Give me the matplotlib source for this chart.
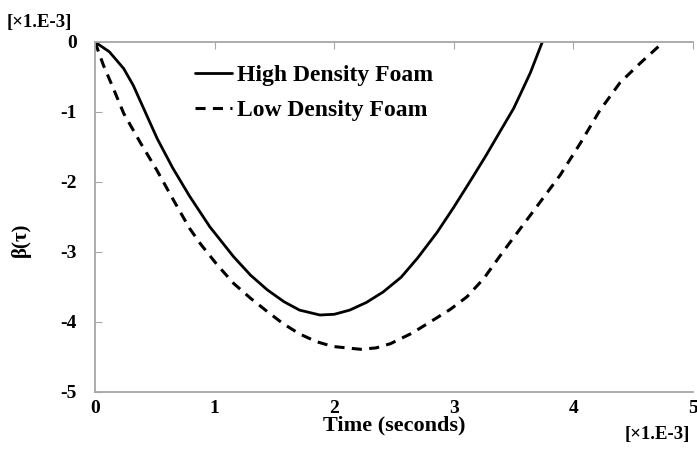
import matplotlib
matplotlib.use("Agg")
import matplotlib.pyplot as plt

# Data (time in 1e-3 s, beta in 1e-3)
t_high = [0, 0.12, 0.24, 0.32, 0.42, 0.52, 0.65, 0.79, 0.96, 1.16, 1.30, 1.44,
          1.58, 1.71, 1.88, 2.00, 2.13, 2.27, 2.41, 2.56, 2.70, 2.86, 3.00,
          3.14, 3.27, 3.40, 3.50, 3.58, 3.64, 3.74]
b_high = [0, -0.14, -0.38, -0.62, -1.00, -1.38, -1.80, -2.20, -2.64, -3.07, -3.33, -3.54,
          -3.71, -3.83, -3.90, -3.89, -3.83, -3.72, -3.57, -3.36, -3.08, -2.72, -2.36,
          -1.98, -1.62, -1.24, -0.95, -0.66, -0.44, 0.0]

t_low = [0, 0.07, 0.15, 0.24, 0.38, 0.52, 0.65, 0.79, 0.88, 1.02, 1.16, 1.30, 1.44,
         1.57, 1.71, 1.85, 1.99, 2.22, 2.35, 2.47, 2.65, 2.83, 2.97, 3.11, 3.25,
         3.41, 3.55, 3.69, 3.89, 4.06, 4.22, 4.39, 4.56, 4.74]
b_low = [0, -0.33, -0.65, -1.02, -1.44, -1.84, -2.24, -2.66, -2.88, -3.18, -3.45, -3.66, -3.85,
         -4.02, -4.17, -4.28, -4.35, -4.39, -4.37, -4.31, -4.16, -3.97, -3.82, -3.64, -3.38,
         -3.00, -2.68, -2.36, -1.90, -1.44, -0.98, -0.58, -0.30, -0.02]

x_ticks = [0, 1, 2, 3, 4, 5]
y_ticks = [0, -1, -2, -3, -4, -5]
series_names = ["High Density Foam", "Low Density Foam"]

serif = ["Liberation Serif", "DejaVu Serif"]
plt.rcParams['font.family'] = serif
plt.rcParams['font.weight'] = 'bold'

fig = plt.figure(figsize=(6.97, 4.68), dpi=100)
ax = fig.add_axes([95/697, 1 - 392/468, (693 - 95)/697, 350/468])

ax.plot(t_high, b_high, color='black', lw=2.0, solid_capstyle='round', label=series_names[0])
ax.plot(t_low, b_low, color='black', lw=2.2, linestyle=(0, (3.3, 2.4)), label=series_names[1])

ax.set_xlim(0, 5)
ax.set_ylim(-5, 0)

spine_col = '#a6a6a6'
for s in ['top', 'left', 'bottom']:
    ax.spines[s].set_color(spine_col)
    ax.spines[s].set_linewidth(1.3)
ax.spines['right'].set_visible(False)

ax.set_xticks(x_ticks)
ax.set_xticklabels([str(v) for v in x_ticks])
ax.set_yticks(y_ticks)
ax.set_yticklabels([str(v) for v in y_ticks])
ax.tick_params(axis='x', top=True, bottom=False, labeltop=False, labelbottom=True,
               direction='in', length=5, color=spine_col, labelsize=14, pad=6)
ax.tick_params(axis='y', direction='in', length=5, color=spine_col, labelsize=14, pad=13)
for lab in ax.get_xticklabels() + ax.get_yticklabels():
    lab.set_fontweight('bold')

ax.set_xlabel("Time (seconds)", fontsize=16, fontweight='bold', labelpad=-1)
ax.set_ylabel("β(τ)", fontsize=15, fontweight='bold')
ax.yaxis.set_label_coords(-0.108, 0.434)

fig.text(7/697, 1 - 22/468, "[×1.E-3]", fontsize=13.5, fontweight='bold', va='center', ha='left')
fig.text(625/697, 1 - 434/468, "[×1.E-3]", fontsize=13.5, fontweight='bold', va='center', ha='left')

leg = ax.legend(loc='upper left', bbox_to_anchor=(0.167, 0.935), frameon=False,
                prop={'family': serif, 'weight': 'bold', 'size': 17},
                handlelength=1.57, handletextpad=0.2, labelspacing=0.55,
                borderpad=0, borderaxespad=0)

fig.savefig("out.png", dpi=100, facecolor='white')
